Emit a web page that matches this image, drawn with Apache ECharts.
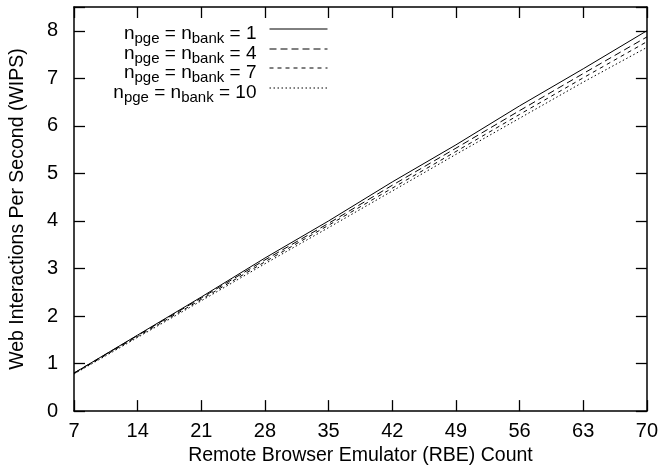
<!DOCTYPE html>
<html>
<head>
<meta charset="utf-8">
<script src="https://cdn.jsdelivr.net/npm/echarts@6/dist/echarts.min.js"></script>
<style>html,body{margin:0;padding:0;background:#fff;}#c{width:661px;height:471px;}</style>
</head>
<body>
<div id="c"></div>
<script>
const rbe = [7, 14, 21, 28, 35, 42, 49, 56, 63, 70];
const s1 = [0.80, 1.60, 2.40, 3.22, 4.00, 4.82, 5.60, 6.42, 7.20, 8.00];
const s2 = [0.80, 1.59, 2.38, 3.18, 3.95, 4.75, 5.53, 6.32, 7.10, 7.87];
const s3 = [0.79, 1.57, 2.35, 3.14, 3.91, 4.69, 5.46, 6.24, 7.01, 7.77];
const s4 = [0.78, 1.55, 2.32, 3.10, 3.86, 4.63, 5.40, 6.16, 6.92, 7.65];
const nvals = ['1', '4', '7', '10'];
const names = nvals.map(v => 'n = ' + v);
const yTicks = [0, 1, 2, 3, 4, 5, 6, 7, 8];

const FONT = 'Liberation Sans';
const chart = echarts.init(document.getElementById('c'), null, {renderer: 'canvas'});
const dashes = ['solid', [7, 4], [4, 4], [1.5, 2.5]];
const data = [s1, s2, s3, s4];

const series = data.map((d, i) => ({
  name: names[i],
  type: 'line',
  data: rbe.map((x, j) => [x, d[j]]),
  showSymbol: false,
  symbol: 'none',
  lineStyle: {color: '#000', width: 1, type: dashes[i]},
  itemStyle: {color: '#000'},
  animation: false
}));

const legendTops = [19, 39, 58, 78];
const legends = names.map((nm, i) => ({
  data: [nm],
  right: 328,
  top: legendTops[i],
  align: 'right',
  orient: 'vertical',
  itemWidth: 58,
  itemHeight: 10,
  selectedMode: false,
  itemStyle: {color: 'rgba(0,0,0,0)', borderWidth: 0, opacity: 0},
  lineStyle: {width: 1, color: '#000'},
  formatter: () => '{n|n}{s|pge}{n| = n}{s|bank}{e| = ' + nvals[i] + '}',
  textStyle: {
    fontFamily: FONT,
    padding: [12, 0, 0, 0],
    rich: {
      n: {fontFamily: FONT, fontSize: 19, color: '#000', verticalAlign: 'top', lineHeight: 22},
      s: {fontFamily: FONT, fontSize: 15, color: '#000', verticalAlign: 'bottom', lineHeight: 22},
      e: {fontFamily: FONT, fontSize: 19, color: '#000', verticalAlign: 'top', lineHeight: 22, padding: [0, 8, 0, 0]}
    }
  }
}));

const tickStyle = {show: true, inside: true, length: 11, lineStyle: {color: '#000', width: 1.3}};
chart.setOption({
  animation: false,
  backgroundColor: '#fff',
  grid: {left: 73, right: 14, top: 7, bottom: 53, show: false},
  legend: legends,
  xAxis: [{
    type: 'value', min: 7, max: 70, interval: 7,
    name: 'Remote Browser Emulator (RBE) Count',
    nameLocation: 'middle', nameGap: 31,
    nameTextStyle: {fontFamily: FONT, fontSize: 19.5, color: '#000'},
    axisLine: {show: true, onZero: false, lineStyle: {color: '#000', width: 1.5}},
    axisTick: tickStyle,
    axisLabel: {fontFamily: FONT, fontSize: 20, color: '#000', margin: 10},
    splitLine: {show: false}
  }, {
    type: 'value', min: 7, max: 70, interval: 7, position: 'top',
    axisLine: {show: true, onZero: false, lineStyle: {color: '#000', width: 1.5}},
    axisTick: tickStyle,
    axisLabel: {show: false},
    splitLine: {show: false}
  }],
  yAxis: [{
    type: 'value', min: 0, max: 8.5, interval: 1,
    name: 'Web Interactions Per Second (WIPS)',
    nameLocation: 'middle', nameGap: 46,
    nameTextStyle: {fontFamily: FONT, fontSize: 19.5, color: '#000'},
    axisLine: {show: true, onZero: false, lineStyle: {color: '#000', width: 1.5}},
    axisTick: tickStyle,
    axisLabel: {fontFamily: FONT, fontSize: 20, color: '#000', margin: 16,
      formatter: v => (yTicks.indexOf(v) >= 0 ? String(v) : '')},
    splitLine: {show: false}
  }, {
    type: 'value', min: 0, max: 8.5, interval: 1, position: 'right',
    axisLine: {show: true, onZero: false, lineStyle: {color: '#000', width: 1.5}},
    axisTick: tickStyle,
    axisLabel: {show: false},
    splitLine: {show: false}
  }],
  series: series
});
</script>
</body>
</html>
